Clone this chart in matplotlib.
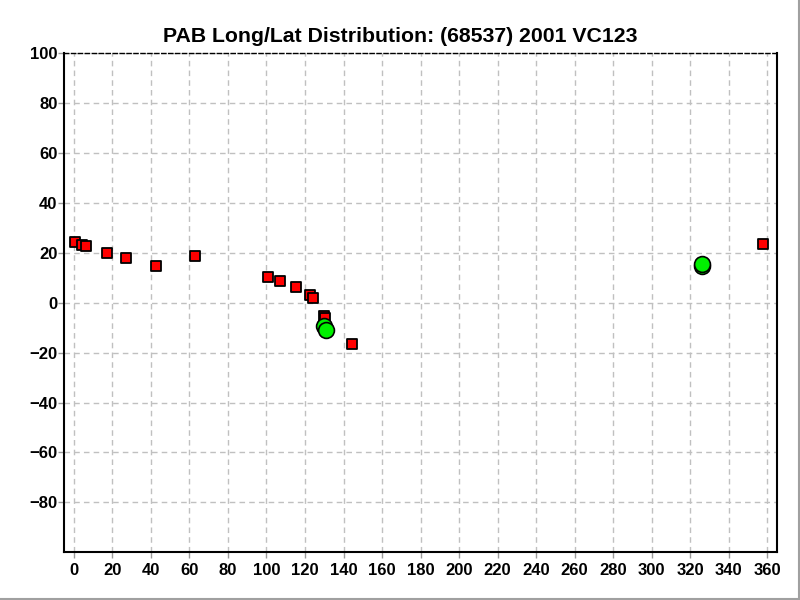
import matplotlib
matplotlib.use("Agg")
import matplotlib.pyplot as plt
from matplotlib.lines import Line2D

# red squares: observations
sq_long = [0.7, 4.3, 6.4, 17.3, 27.2, 42.6, 62.9, 101.0, 107.2, 115.5,
           122.8, 124.4, 129.8, 130.3, 144.6, 357.7]
sq_lat = [24.3, 23.2, 22.8, 19.9, 17.9, 14.8, 18.8, 10.4, 8.8, 6.2,
          3.2, 1.9, -5.3, -6.2, -16.5, 23.5]

# green circles
gc_long = [129.9, 130.8, 326.2, 326.2]
gc_lat = [-9.5, -10.8, 14.7, 15.5]

x_ticks = list(range(0, 361, 20))
y_ticks = list(range(-80, 101, 20))

plt.rcParams["font.family"] = ["Liberation Sans", "DejaVu Sans"]

fig = plt.figure(figsize=(8, 6), dpi=100)
ax = fig.add_axes([0.0804, 0.0795, 0.8905, 0.8317])

ax.set_xlim(-5, 365)
ax.set_ylim(-100, 100)
ax.set_xticks(x_ticks)
ax.set_yticks(y_ticks)
ax.tick_params(labelsize=12, length=4, width=1, color="#999999")
ax.tick_params(axis="y", pad=1)
for lab in ax.get_xticklabels() + ax.get_yticklabels():
    lab.set_fontweight("bold")

ax.grid(True, linestyle=(0, (4, 3)), color="#c0c0c0", linewidth=1)
ax.set_axisbelow(True)

for s in ["left", "bottom", "right"]:
    ax.spines[s].set_linewidth(1.5)
    ax.spines[s].set_color("black")
ax.spines["top"].set_linestyle((0, (3, 2)))
ax.spines["top"].set_linewidth(1)

ax.scatter(sq_long, sq_lat, marker="s", s=62, facecolor="#ff0000",
           edgecolor="black", linewidth=1.3, zorder=3)
ax.scatter(gc_long, gc_lat, marker="o", s=130, facecolor="#00f000",
           edgecolor="black", linewidth=1.2, zorder=4)

# title is centred on the whole window, not the axes
fig.text(0.5, 1 - 42 / 600, "PAB Long/Lat Distribution: (68537) 2001 VC123",
         fontsize=15.3, fontweight="bold", ha="center", va="baseline")

# grey window border on the right and bottom edges
fig.add_artist(Line2D([0, 1], [0.002, 0.002], transform=fig.transFigure,
                      color="#a0a0a0", linewidth=1.5))
fig.add_artist(Line2D([0.999, 0.999], [0, 1], transform=fig.transFigure,
                      color="#a0a0a0", linewidth=1.5))

fig.savefig("out.png", dpi=100, facecolor="white")
